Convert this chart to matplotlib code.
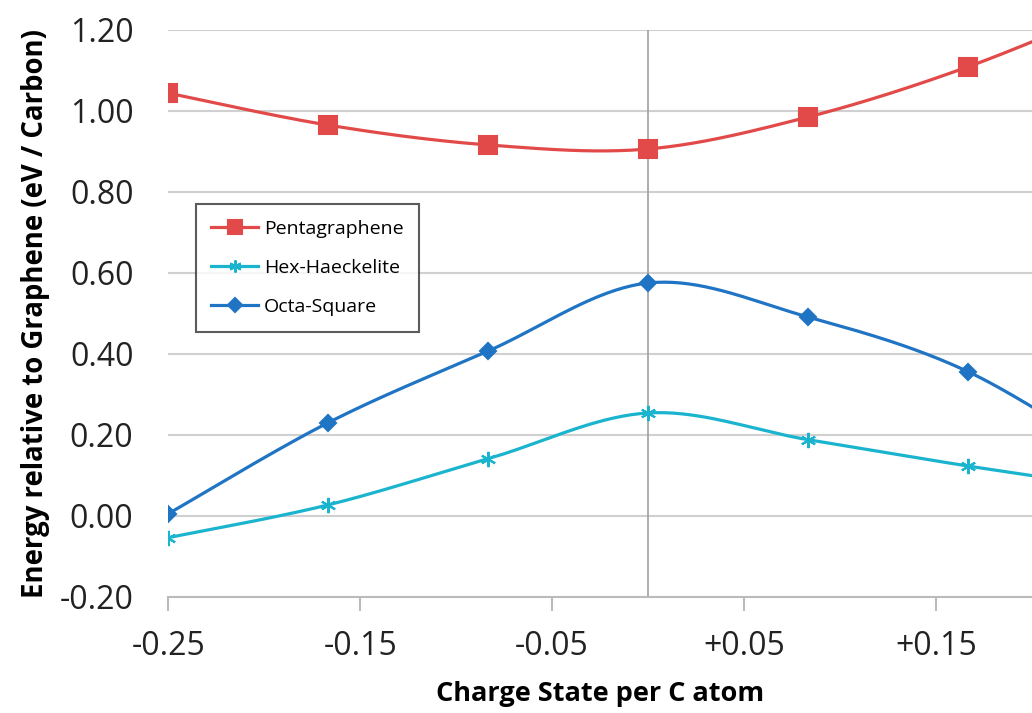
import matplotlib.pyplot as plt
import numpy as np

# charge state per C atom
carga = [-0.25, -1/6, -1/12, 0.0, 1/12, 1/6, 0.25]

# energies relative to graphene (eV / C)
penta = [1.044, 0.965, 0.916, 0.906, 0.985, 1.109, 1.27]
hex_haeck = [-0.054, 0.027, 0.141, 0.254, 0.188, 0.123, 0.065]
octa = [0.005, 0.23, 0.407, 0.575, 0.491, 0.356, 0.12]

xticks = [-0.25, -0.15, -0.05, 0.05, 0.15]
xtick_labels = ['-0.25', '-0.15', '-0.05', '+0.05', '+0.15']
yticks = [-0.2, 0.0, 0.2, 0.4, 0.6, 0.8, 1.0, 1.2]


def suavizar(x, y, n=40):
    # curva tipo Excel (Catmull-Rom / Bezier)
    x = np.asarray(x, float)
    y = np.asarray(y, float)
    px = np.concatenate([[x[0]], x, [x[-1]]])
    py = np.concatenate([[y[0]], y, [y[-1]]])
    xs, ys = [], []
    for i in range(1, len(px) - 2):
        p0 = np.array([px[i - 1], py[i - 1]])
        p1 = np.array([px[i], py[i]])
        p2 = np.array([px[i + 1], py[i + 1]])
        p3 = np.array([px[i + 2], py[i + 2]])
        c1 = p1 + (p2 - p0) / 6
        c2 = p2 - (p3 - p1) / 6
        t = np.linspace(0, 1, n)[:, None]
        b = (1 - t) ** 3 * p1 + 3 * (1 - t) ** 2 * t * c1 + 3 * (1 - t) * t ** 2 * c2 + t ** 3 * p2
        xs.extend(b[:, 0])
        ys.extend(b[:, 1])
    return np.array(xs), np.array(ys)


plt.rcParams['font.family'] = ['Open Sans', 'DejaVu Sans']

fig = plt.figure(figsize=(10.32, 7.13), dpi=100)
ax = fig.add_axes([0.163, 0.163, 0.837, 0.795])

series = [
    (penta, '#E24A4A', 's', 13, 'Pentagraphene'),
    (hex_haeck, '#1BB4CF', (6, 2, 0), 11, 'Hex-Haeckelite'),
    (octa, '#1F74C4', 'D', 8.5, 'Octa-Square'),
]
for vals, col, mk, ms, lab in series:
    sx, sy = suavizar(carga, vals)
    ax.plot(sx, sy, color=col, lw=2.3, zorder=3)
    ax.plot(carga, vals, linestyle='none', marker=mk, markersize=ms,
            color=col, markeredgecolor=col, markeredgewidth=1.5, zorder=4)
    ax.plot([], [], color=col, lw=2.3, marker=mk, markersize=ms * 0.8,
            markeredgewidth=1.5, label=lab)

ax.set_xlim(-0.25, 0.2)
ax.set_ylim(-0.2, 1.2)
ax.set_yticks(yticks)
ax.set_yticklabels([f'{v:.2f}' for v in yticks])
ax.set_xticks(xticks)
ax.set_xticklabels(xtick_labels)

ax.grid(axis='y', color='#D0D0D0', lw=1.5)
ax.axvline(0, color='#A0A0A0', lw=1.2, zorder=2)
for s in ['top', 'right', 'left']:
    ax.spines[s].set_visible(False)
ax.spines['bottom'].set_color('#BBBBBB')
ax.spines['bottom'].set_linewidth(1.5)
ax.tick_params(axis='y', length=0, pad=25, labelsize=23, colors='#222222')
ax.tick_params(axis='x', length=10, width=1.5, color='#BBBBBB', pad=14,
               labelsize=23, labelcolor='#222222')

ax.set_xlabel('Charge State per C atom', fontsize=19.5, fontweight='bold', labelpad=13)
ax.set_ylabel('Energy relative to Graphene (eV / Carbon)', fontsize=19.8,
              fontweight='bold', labelpad=7)

leg = ax.legend(loc='upper left', bbox_to_anchor=(0.032, 0.693), fontsize=14,
                frameon=True, fancybox=False, edgecolor='#333333',
                borderpad=0.8, labelspacing=1.1, handlelength=2.4, handletextpad=0.3,
                borderaxespad=0)
leg.get_frame().set_linewidth(1.5)

fig.savefig('out.png', dpi=100)
